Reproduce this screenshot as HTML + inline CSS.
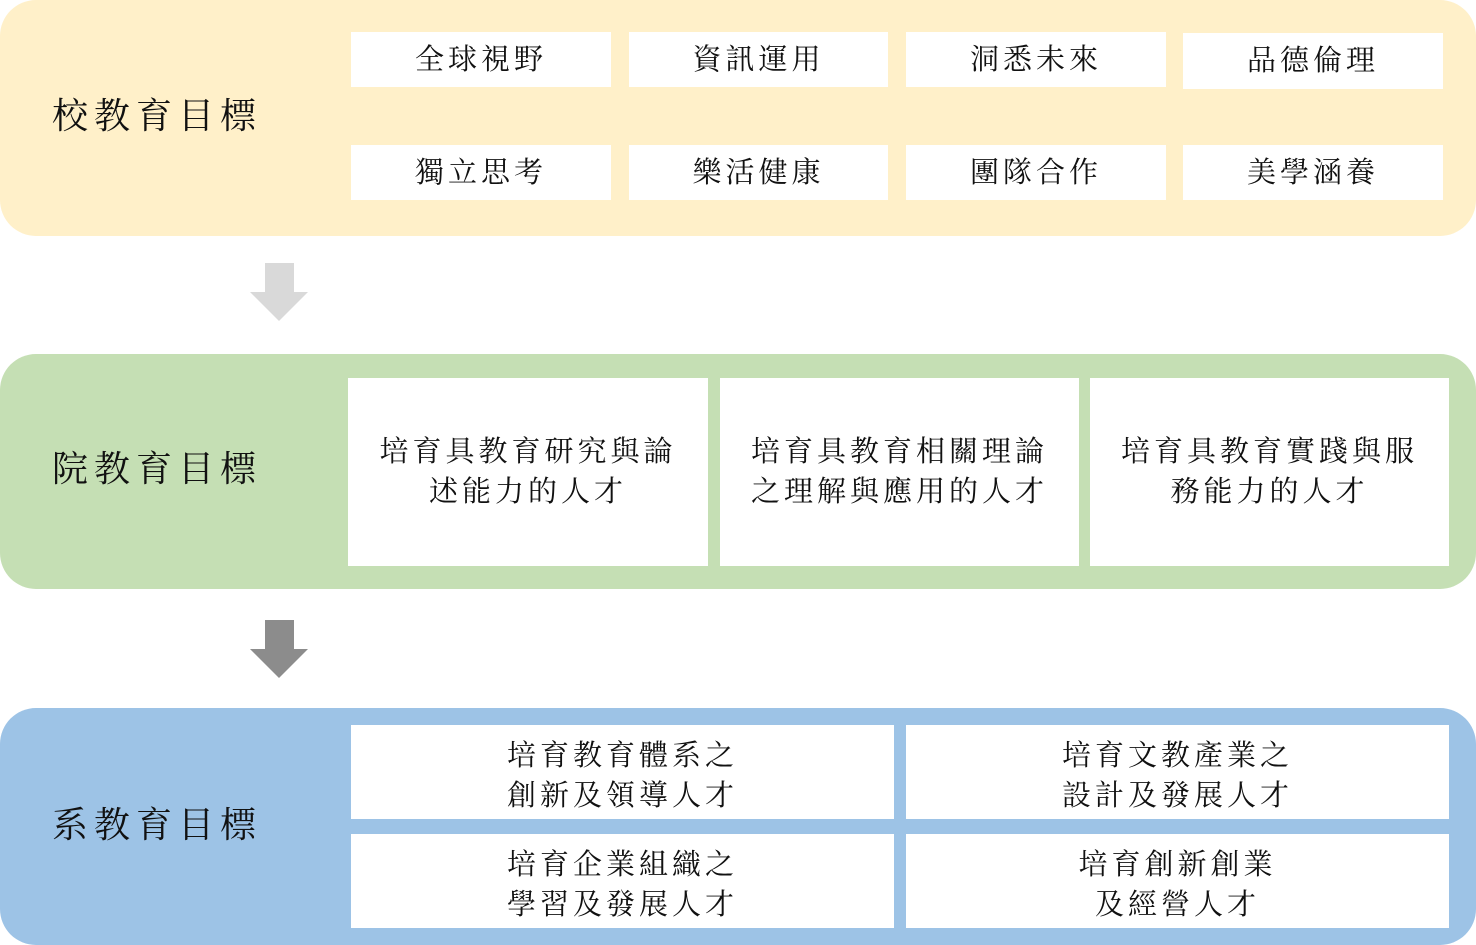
<!DOCTYPE html>
<html><head><meta charset="utf-8"><style>
html,body{margin:0;padding:0;background:#fff;}
body{width:1476px;height:945px;position:relative;overflow:hidden;font-family:"Liberation Serif","Noto Serif CJK SC","Noto Sans CJK TC",serif;color:#111;}
.panel{position:absolute;left:0;width:1476px;border-radius:36px;}
.b{position:absolute;background:#fff;display:flex;align-items:center;justify-content:center;text-align:center;font-size:29px;letter-spacing:4px;line-height:40px;box-sizing:border-box;}
.lab{position:absolute;left:52px;font-size:36px;letter-spacing:6px;line-height:50px;}
</style></head><body>
<div class="panel" style="top:0;height:236px;background:#FFF0C9;"></div>
<div class="lab" style="top:91px">校教育目標</div>
<div class="b" style="left:351px;top:32px;width:260px;height:55px">全球視野</div>
<div class="b" style="left:629px;top:32px;width:259px;height:55px">資訊運用</div>
<div class="b" style="left:906px;top:32px;width:260px;height:55px">洞悉未來</div>
<div class="b" style="left:1183px;top:33px;width:260px;height:56px">品德倫理</div>
<div class="b" style="left:351px;top:145px;width:260px;height:55px">獨立思考</div>
<div class="b" style="left:629px;top:145px;width:259px;height:55px">樂活健康</div>
<div class="b" style="left:906px;top:145px;width:260px;height:55px">團隊合作</div>
<div class="b" style="left:1183px;top:145px;width:260px;height:55px">美學涵養</div>

<svg style="position:absolute;left:250px;top:263px" width="58" height="58"><polygon points="15,0 44,0 44,29 58,29 29,58 0,29 15,29" fill="#D9D9D9"/></svg>

<div class="panel" style="top:354px;height:235px;background:#C5DFB4;"></div>
<div class="lab" style="top:444px">院教育目標</div>
<div class="b" style="left:348px;top:378px;width:360px;height:188px">培育具教育研究與論<br>述能力的人才</div>
<div class="b" style="left:720px;top:378px;width:359px;height:188px">培育具教育相關理論<br>之理解與應用的人才</div>
<div class="b" style="left:1090px;top:378px;width:359px;height:188px">培育具教育實踐與服<br>務能力的人才</div>

<svg style="position:absolute;left:250px;top:620px" width="58" height="58"><polygon points="15,0 44,0 44,29 58,29 29,58 0,29 15,29" fill="#8C8C8C"/></svg>

<div class="panel" style="top:708px;height:237px;background:#9DC3E6;"></div>
<div class="lab" style="top:800px">系教育目標</div>
<div class="b" style="left:351px;top:725px;width:543px;height:94px;padding-top:8px">培育教育體系之<br>創新及領導人才</div>
<div class="b" style="left:906px;top:725px;width:543px;height:94px;padding-top:8px">培育文教產業之<br>設計及發展人才</div>
<div class="b" style="left:351px;top:834px;width:543px;height:94px;padding-top:8px">培育企業組織之<br>學習及發展人才</div>
<div class="b" style="left:906px;top:834px;width:543px;height:94px;padding-top:8px">培育創新創業<br>及經營人才</div>
</body></html>
